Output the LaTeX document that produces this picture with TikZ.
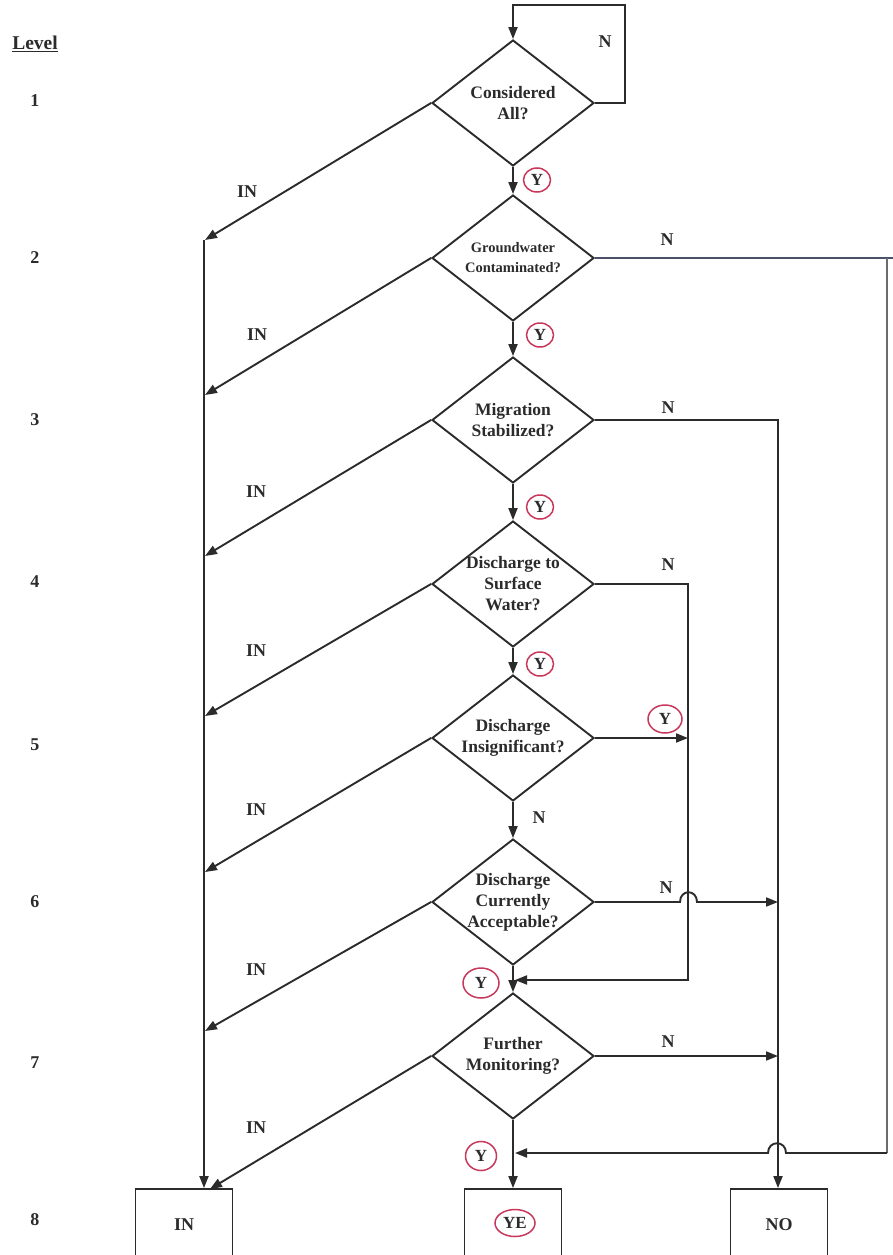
\documentclass[tikz,border=0pt]{standalone}
\usepackage{fontspec}
\setmainfont{Liberation Serif}
\usetikzlibrary{shapes.geometric,arrows.meta,calc}
\definecolor{ink}{HTML}{2B2B2B}
\definecolor{ycirc}{HTML}{C8385A}
\definecolor{blueline}{HTML}{4A5068}
\begin{document}
\begin{tikzpicture}[x=1pt,y=-1pt,
  every node/.style={text=ink},
  dec/.style={diamond, draw=ink, line width=1.9pt, minimum width=162pt, minimum height=126pt, inner sep=0pt},
  lbl/.style={align=center, font=\fontsize{17.5}{21}\selectfont\bfseries, text=ink},
  lbls/.style={align=center, font=\fontsize{14.5}{20}\selectfont\bfseries, text=ink},
  box/.style={rectangle, draw=ink, line width=1.9pt, minimum width=97pt, minimum height=72pt, inner sep=0pt, font=\fontsize{18}{18}\selectfont\bfseries},
  ycir/.style={ellipse, draw=ycirc, line width=1.5pt, inner sep=0pt, minimum width=27pt, minimum height=24pt, font=\fontsize{17}{17}\selectfont\bfseries},
  tag/.style={font=\fontsize{18}{18}\selectfont\bfseries, inner sep=1pt},
  conn/.style={draw=ink, line width=1.9pt},
  arr/.style={conn, -{Triangle[length=12pt,width=9pt]}},
]
\clip (0,0) rectangle (893,1255);
\useasboundingbox (0,0) rectangle (893,1255);

% level column
\node[tag, font=\fontsize{19.5}{19.5}\selectfont\bfseries] (lev) at (35,44) {\underline{Level}};
\node[tag] (n1) at (35,101) {1};
\node[tag] (n2) at (35,258) {2};
\node[tag] (n3) at (35,420) {3};
\node[tag] (n4) at (35,582) {4};
\node[tag] (n5) at (35,745) {5};
\node[tag] (n6) at (35,902) {6};
\node[tag] (n7) at (35,1063) {7};
\node[tag] (n8) at (35,1220) {8};

% decisions
\node[dec, label={[lbl]center:Considered\\All?}] (D1) at (513,103) {};
\node[dec, label={[lbls]center:Groundwater\\Contaminated?}] (D2) at (513,258) {};
\node[dec, label={[lbl]center:Migration\\Stabilized?}] (D3) at (513,420) {};
\node[dec, label={[lbl]center:Discharge to\\Surface\\Water?}] (D4) at (513,584) {};
\node[dec, label={[lbl]center:Discharge\\Insignificant?}] (D5) at (513,738) {};
\node[dec, label={[lbl]center:Discharge\\Currently\\Acceptable?}] (D6) at (513,902) {};
\node[dec, label={[lbl]center:Further\\Monitoring?}] (D7) at (513,1056) {};

% end boxes
\node[box] (bIN) at (184,1225) {IN};
\node[box] (bYE) at (513,1225) {};
\node[box] (bNO) at (779,1225) {NO};
\node[ycir, minimum width=40pt, minimum height=27pt] (ye) at (515,1223) {YE};

% coordinates
\coordinate (lt1) at (625,103);
\coordinate (lt2) at (625,5);
\coordinate (lt3) at (513,5);
\coordinate (vtop) at (204,240);
\coordinate (i1) at (205,240);
\coordinate (i2) at (205,395);
\coordinate (i3) at (205,556);
\coordinate (i4) at (205,716);
\coordinate (i5) at (205,872);
\coordinate (i6) at (205,1031);
\coordinate (i7) at (210,1189);
\coordinate (r1) at (887,258);
\coordinate (r1b) at (893,258);
\coordinate (r2) at (887,1153);
\coordinate (r3) at (786,1153);
\coordinate (r4) at (768,1153);
\coordinate (r5) at (515,1153);
\coordinate (m1) at (778,420);
\coordinate (m2) at (778,902);
\coordinate (m3) at (778,1056);
\coordinate (s1) at (688,584);
\coordinate (s2) at (688,980);
\coordinate (s3) at (515,980);
\coordinate (s4) at (688,738);
\coordinate (h1) at (680,902);
\coordinate (h2) at (697,902);

% top loop
\draw[arr] (D1.east) -- (lt1) -- (lt2) -- (lt3) -- (D1.north);
\node[tag] (tN0) at (605,42) {N};

% main spine
\draw[arr] (D1.south) -- (D2.north);
\draw[arr] (D2.south) -- (D3.north);
\draw[arr] (D3.south) -- (D4.north);
\draw[arr] (D4.south) -- (D5.north);
\draw[arr] (D5.south) -- (D6.north);
\draw[arr] (D6.south) -- (D7.north);
\draw[arr] (D7.south) -- (bYE.north);
\node[ycir] (y1) at (537,180) {Y};
\node[ycir] (y2) at (540,335) {Y};
\node[ycir] (y3) at (540,507) {Y};
\node[ycir] (y4) at (540,664) {Y};
\node[tag] (tN5) at (539,818) {N};
\node[ycir, minimum width=36pt, minimum height=30pt] (y6) at (481,983) {Y};
\node[ycir, minimum width=31pt, minimum height=29pt] (y7) at (481,1156) {Y};

% IN branch
\draw[arr] (vtop) -- (bIN.north -| vtop);
\draw[arr] (D1.west) -- (i1);
\draw[arr] (D2.west) -- (i2);
\draw[arr] (D3.west) -- (i3);
\draw[arr] (D4.west) -- (i4);
\draw[arr] (D5.west) -- (i5);
\draw[arr] (D6.west) -- (i6);
\draw[arr] (D7.west) -- (i7);
\node[tag] (in1) at (247,192) {IN};
\node[tag] (in2) at (257,335) {IN};
\node[tag] (in3) at (256,492) {IN};
\node[tag] (in4) at (256,651) {IN};
\node[tag] (in5) at (256,810) {IN};
\node[tag] (in6) at (256,970) {IN};
\node[tag] (in7) at (256,1128) {IN};

% D2 N: long way round the right edge into YE
\draw[conn, draw=blueline] (D2.east) -- (r1b);
\draw[conn, draw=ink!70, line width=1.2pt] (r1) -- (r2);
\draw[arr] (r2) -- (r3) .. controls (786,1140) and (768,1140) .. (r4) -- (r5);
\node[tag] (tN2) at (667,240) {N};

% D3 N to NO
\draw[arr] (D3.east) -- (m1) -- (bNO.north -| m1);
\node[tag] (tN3) at (668,408) {N};

% D4 N into spine above D7
\draw[arr] (D4.east) -- (s1) -- (s2) -- (s3);
\node[tag] (tN4) at (668,565) {N};

% D5 Y joins D4 N line
\draw[arr] (D5.east) -- (s4);
\node[ycir, minimum width=34pt, minimum height=28pt] (y5) at (665,719) {Y};

% D6 N to NO line (hop over)
\draw[arr] (D6.east) -- (h1) .. controls (680,889) and (697,889) .. (h2) -- (m2);
\node[tag] (tN6) at (666,888) {N};

% D7 N to NO line
\draw[arr] (D7.east) -- (m3);
\node[tag] (tN7) at (668,1042) {N};
\end{tikzpicture}
\end{document}
